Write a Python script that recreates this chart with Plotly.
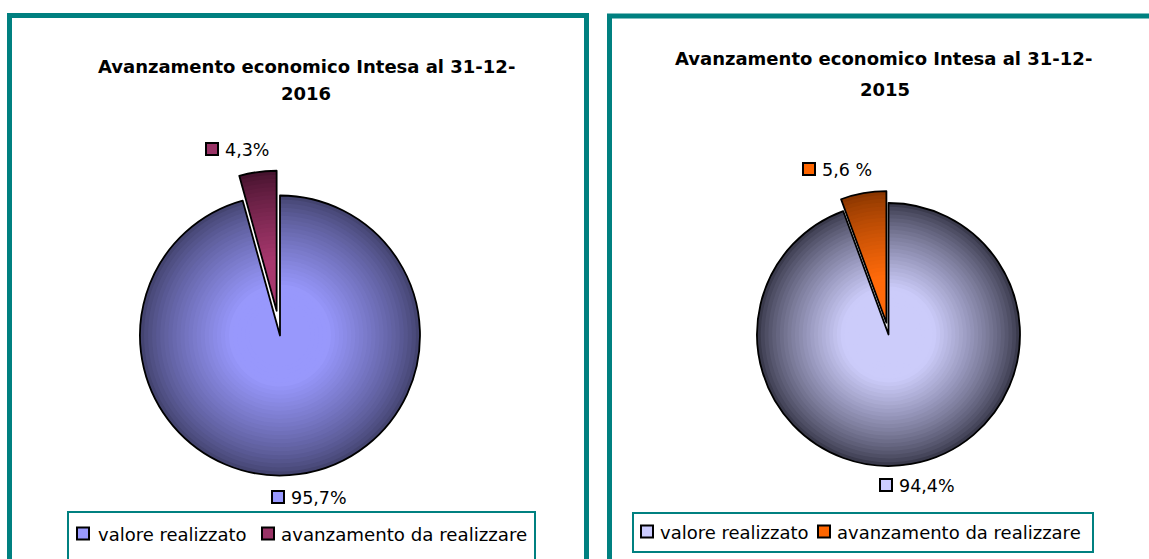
import plotly.graph_objects as go

# ---------------- data ----------------
categories = ["valore realizzato", "avanzamento da realizzare"]
values_2016 = [95.7, 4.3]
values_2015 = [94.4, 5.6]
labels_2016 = ["95,7%", "4,3%"]
labels_2015 = ["94,4%", "5,6 %"]
title_2016 = ["Avanzamento economico Intesa al 31-12-", "2016"]
title_2015 = ["Avanzamento economico Intesa al 31-12-", "2015"]

# shading: (edge colour, centre colour) per slice
shade_2016 = [("#444470", "#9898fc"), ("#46132e", "#a8386e")]
shade_2015 = [("#3a3a4c", "#ccccfa"), ("#8a3600", "#ff6a0a")]
key_colors_2016 = ["#9999ff", "#993366"]
key_colors_2015 = ["#ccccff", "#ff6600"]

W, H = 1149, 559
TEAL = "#008080"
FONT = "DejaVu Sans"


def X(px):
    return px / W


def Y(py):
    return (H - py) / H


def hex2rgb(h):
    h = h.lstrip("#")
    return [int(h[i:i + 2], 16) for i in (0, 2, 4)]


def mix(c1, c2, t):
    a, b = hex2rgb(c1), hex2rgb(c2)
    return "rgb(%d,%d,%d)" % tuple(round(a[i] + (b[i] - a[i]) * t) for i in range(3))


fig = go.Figure()

N_LAYERS = 28


def add_pie(values, shade, cx, cy, r, pull_px):
    # concentric layers of the same pie give a light-centre / dark-edge shading
    for k in range(N_LAYERS):
        f = 1.0 - k * (0.78 / (N_LAYERS - 1))
        t = min(1.0, (1.0 - f) / 0.64) ** 0.8
        ri = r * f
        half = ri + pull_px
        fig.add_trace(go.Pie(
            labels=categories, values=values, sort=False, direction="clockwise",
            rotation=0, pull=[0, pull_px / ri], textinfo="none", hoverinfo="label+percent",
            marker=dict(colors=[mix(e, c, t) for e, c in shade], line=dict(width=0)),
            domain=dict(x=[X(cx - half), X(cx + half)], y=[Y(cy + half), Y(cy - half)]),
            showlegend=False,
        ))
    # outline layer
    half = r + pull_px
    fig.add_trace(go.Pie(
        labels=categories, values=values, sort=False, direction="clockwise",
        rotation=0, pull=[0, pull_px / r], textinfo="none", hoverinfo="skip",
        marker=dict(colors=["rgba(0,0,0,0)"] * len(values), line=dict(color="black", width=1.8)),
        domain=dict(x=[X(cx - half), X(cx + half)], y=[Y(cy + half), Y(cy - half)]),
        showlegend=False,
    ))


add_pie(values_2016, shade_2016, 280, 335.5, 140, 25)
add_pie(values_2015, shade_2015, 888.5, 334.5, 131.5, 12)

shapes = []
# panels
shapes.append(dict(type="rect", xref="paper", yref="paper",
                   x0=X(9.5), x1=X(586.5), y0=Y(600), y1=Y(15.5),
                   line=dict(color=TEAL, width=5), fillcolor="rgba(0,0,0,0)", layer="below"))
shapes.append(dict(type="rect", xref="paper", yref="paper",
                   x0=X(609.5), x1=X(1170), y0=Y(600), y1=Y(16),
                   line=dict(color=TEAL, width=5), fillcolor="rgba(0,0,0,0)", layer="below"))

annotations = []


def text(t, x, y, size, anchor="left", bold=False):
    annotations.append(dict(text=("<b>%s</b>" % t) if bold else t, x=X(x), y=Y(y),
                            xref="paper", yref="paper", xanchor=anchor, yanchor="middle",
                            showarrow=False, font=dict(family=FONT, size=size, color="black")))


def key(x, y, col):
    shapes.append(dict(type="rect", xref="paper", yref="paper",
                       x0=X(x), x1=X(x + 12), y0=Y(y + 6), y1=Y(y - 6),
                       line=dict(color="black", width=2), fillcolor=col))


# titles
text(title_2016[0], 306.5, 66, 18, "center", True)
text(title_2016[1], 306, 93.5, 18, "center", True)
text(title_2015[0], 883.5, 58.5, 18, "center", True)
text(title_2015[1], 884.5, 89, 18, "center", True)

# data labels with key squares
for txt, col, sx, sy in [
    (labels_2016[0], key_colors_2016[0], 272, 497),
    (labels_2016[1], key_colors_2016[1], 206, 149),
    (labels_2015[0], key_colors_2015[0], 880, 485),
    (labels_2015[1], key_colors_2015[1], 803, 169),
]:
    key(sx, sy, col)
    text(txt, sx + 17, sy + 0.5, 17.5)

# legends
shapes.append(dict(type="rect", xref="paper", yref="paper",
                   x0=X(68), x1=X(535), y0=Y(570), y1=Y(512),
                   line=dict(color=TEAL, width=2), fillcolor="white"))
key(77, 533.5, key_colors_2016[0])
text(categories[0], 96, 534, 18)
key(262, 533.5, key_colors_2016[1])
text(categories[1], 279, 534, 18.2)

shapes.append(dict(type="rect", xref="paper", yref="paper",
                   x0=X(633), x1=X(1093), y0=Y(552), y1=Y(513),
                   line=dict(color=TEAL, width=2), fillcolor="white"))
key(641, 531.5, key_colors_2015[0])
text(categories[0], 658, 532, 18)
key(818, 531.5, key_colors_2015[1])
text(categories[1], 835, 532, 18)

fig.update_layout(
    width=W, height=H, autosize=False,
    margin=dict(l=0, r=0, t=0, b=0),
    paper_bgcolor="white", plot_bgcolor="white",
    shapes=shapes, annotations=annotations, showlegend=False,
)

fig.write_html("out.html")
